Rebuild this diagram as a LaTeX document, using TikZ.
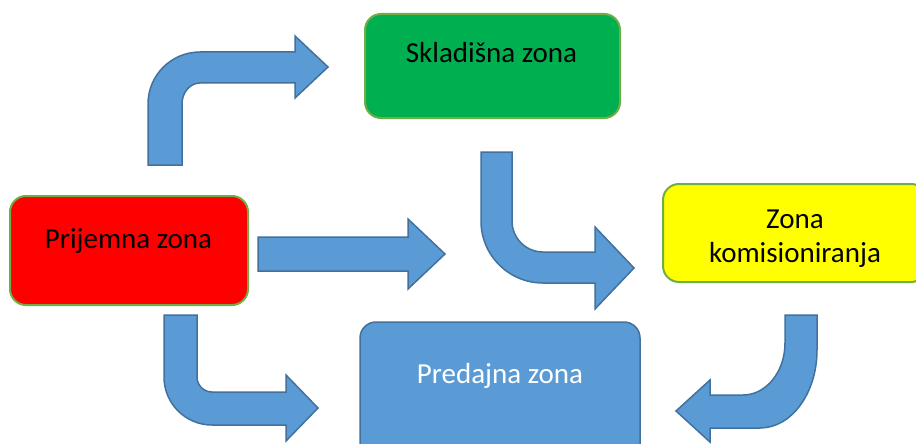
\documentclass[tikz,border=0pt]{standalone}
\usepackage{fontspec}
\setmainfont{Carlito}
\definecolor{arrowfill}{HTML}{5B9BD5}
\definecolor{arrowline}{HTML}{41719C}
\definecolor{boxgreen}{HTML}{00B050}
\definecolor{boxedge}{HTML}{70AD47}
\definecolor{boxred}{HTML}{FF0000}
\definecolor{boxyellow}{HTML}{FFFF00}
\tikzset{
  zonebox/.style={draw=boxedge, line width=2pt, rounded corners=16pt, inner sep=0pt},
  zonetext/.style={font=\fontsize{29}{34}\selectfont, anchor=base, align=center, inner sep=0pt},
  blockarrow/.style={fill=arrowfill, draw=arrowline, line width=1.5pt, line join=miter}
}
\begin{document}
\begin{tikzpicture}[x=1pt,y=1pt]
\clip (0,0) rectangle (916,-444);
\fill[white] (0,0) rectangle (916,-444);
% boxes
\node[zonebox, fill=boxgreen, minimum width=255pt, minimum height=104pt] (skl) at (492.5,-66) {};
\node[zonebox, fill=boxred, minimum width=238pt, minimum height=109pt] (prij) at (129,-250.5) {};
\node[zonebox, fill=boxyellow, minimum width=264pt, minimum height=98pt] (kom) at (795,-233) {};
\node[zonebox, draw=arrowline, line width=1.5pt, fill=arrowfill, minimum width=280pt, minimum height=140pt] (pred) at (500,-392) {};
% labels
\node[zonetext] (sklt) at (491.5,-63) {Skladišna zona};
\node[zonetext] (prijt) at (128.5,-248) {Prijemna zona};
\node[zonetext] (komt) at (795,-262) {Zona\\komisioniranja};
\node[zonetext, text=white] (predt) at (500,-383) {Predajna zona};
% arrows
\draw[blockarrow] (148,-165) -- (148,-104) arc[start angle=180, end angle=90, radius=52pt]
  -- (295,-52) -- (295,-36) -- (328,-67) -- (295,-98) -- (295,-83) -- (200,-83)
  arc[start angle=90, end angle=180, x radius=18pt, y radius=21pt] -- (182,-165) -- cycle;
\draw[blockarrow] (258,-237) -- (408,-237) -- (408,-219) -- (445,-254) -- (408,-289) -- (408,-271) -- (258,-271) -- cycle;
\draw[blockarrow] (481,-152) -- (512,-152) -- (512,-221) arc[start angle=180, end angle=270, radius=31pt]
  -- (595,-252) -- (595,-227) -- (634,-268) -- (595,-309) -- (595,-283) -- (543,-283)
  arc[start angle=270, end angle=180, radius=62pt] -- cycle;
\draw[blockarrow] (164,-315) -- (197,-315) -- (197,-377) arc[start angle=180, end angle=270, radius=15pt]
  -- (286,-392) -- (286,-375) -- (318,-408) -- (286,-441) -- (286,-425) -- (212,-425)
  arc[start angle=270, end angle=180, radius=48pt] -- cycle;
\draw[blockarrow] (785,-315) -- (817,-315) -- (817,-350) arc[start angle=0, end angle=-90, x radius=57pt, y radius=78pt]
  -- (710,-428) -- (710,-442) -- (676,-411) -- (710,-380) -- (710,-395) -- (743,-395)
  arc[start angle=-90, end angle=0, x radius=42pt, y radius=52pt] -- cycle;
\end{tikzpicture}
\end{document}
